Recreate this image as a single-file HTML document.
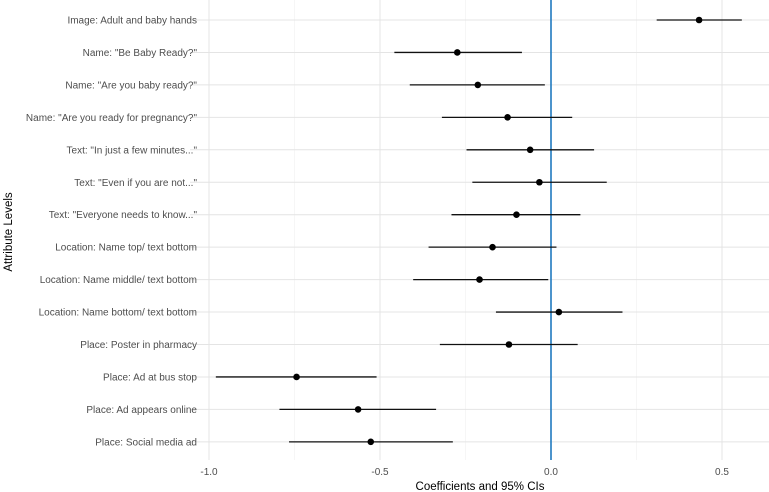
<!DOCTYPE html>
<html><head><meta charset="utf-8">
<style>
html,body{margin:0;padding:0;background:#fff;}
svg{display:block;font-family:"Liberation Sans",Arial,sans-serif;}
</style></head>
<body>
<svg id="chart" width="769" height="492" viewBox="0 0 769 492"></svg>
<script>
const categories = ["Image: Adult and baby hands","Name: \"Be Baby Ready?\"","Name: \"Are you baby ready?\"","Name: \"Are you ready for pregnancy?\"","Text: \"In just a few minutes...\"","Text: \"Even if you are not...\"","Text: \"Everyone needs to know...\"","Location: Name top/ text bottom","Location: Name middle/ text bottom","Location: Name bottom/ text bottom","Place: Poster in pharmacy","Place: Ad at bus stop","Place: Ad appears online","Place: Social media ad"];
const estimates = [0.433,-0.274,-0.214,-0.127,-0.061,-0.034,-0.101,-0.171,-0.209,0.023,-0.123,-0.744,-0.564,-0.527];
const lowerCI = [0.309,-0.458,-0.413,-0.319,-0.247,-0.230,-0.291,-0.358,-0.403,-0.161,-0.325,-0.980,-0.794,-0.766];
const upperCI = [0.558,-0.085,-0.018,0.062,0.126,0.163,0.086,0.016,-0.008,0.209,0.078,-0.510,-0.336,-0.287];
const majorTicks = [-1.0,-0.5,0.0,0.5];
const tickLabels = ["-1.0","-0.5","0.0","0.5"];
const minorTicks = [-0.75,-0.25,0.25];

const NS="http://www.w3.org/2000/svg";
const svg=document.getElementById('chart');
const panel={left:190,right:769,top:0,bottom:460};
const x=v=>551+v*342;
const y=i=>20+i*32.45;
function mk(tag,attrs){const e=document.createElementNS(NS,tag);for(const k in attrs)e.setAttribute(k,attrs[k]);svg.appendChild(e);return e;}

minorTicks.forEach(t=>{
  const g=mk('line',{x1:x(t),x2:x(t),y1:panel.top,y2:panel.bottom,stroke:'#f1f1f1','stroke-width':0.6});
  
  
});
majorTicks.forEach((t,i)=>{
  const g=mk('line',{x1:x(t),x2:x(t),y1:panel.top,y2:panel.bottom,stroke:'#e4e4e4','stroke-width':1});
  
  
  const tl=mk('text',{x:x(t),y:475,'text-anchor':'middle','font-size':10,fill:'#4d4d4d'});
  tl.textContent=tickLabels[i];
  
  
});
categories.forEach((c,i)=>{
  const g=mk('line',{x1:panel.left,x2:panel.right,y1:y(i),y2:y(i),stroke:'#e4e4e4','stroke-width':1});
  
  
  const t=mk('text',{x:197,y:y(i)+3.5,'text-anchor':'end','font-size':10,fill:'#4d4d4d'});
  t.textContent=c;
  
  
});
const zl=mk('line',{x1:x(0),x2:x(0),y1:0,y2:panel.bottom,stroke:'#1f7ac0','stroke-width':1.6});


categories.forEach((c,i)=>{
  const l=mk('line',{x1:x(lowerCI[i]),x2:x(upperCI[i]),y1:y(i),y2:y(i),stroke:'#111','stroke-width':1.3});
  
  
  const p=mk('circle',{cx:x(estimates[i]),cy:y(i),r:3.3,fill:'#000'});
  
  
});
const xt=mk('text',{x:480,y:490,'text-anchor':'middle','font-size':11.5,fill:'#000'});
xt.textContent='Coefficients and 95% CIs';


const yt=mk('text',{x:0,y:0,'text-anchor':'middle','font-size':11.5,fill:'#000',transform:'translate(12,232) rotate(-90)'});
yt.textContent='Attribute Levels';


</script>
</body></html>
